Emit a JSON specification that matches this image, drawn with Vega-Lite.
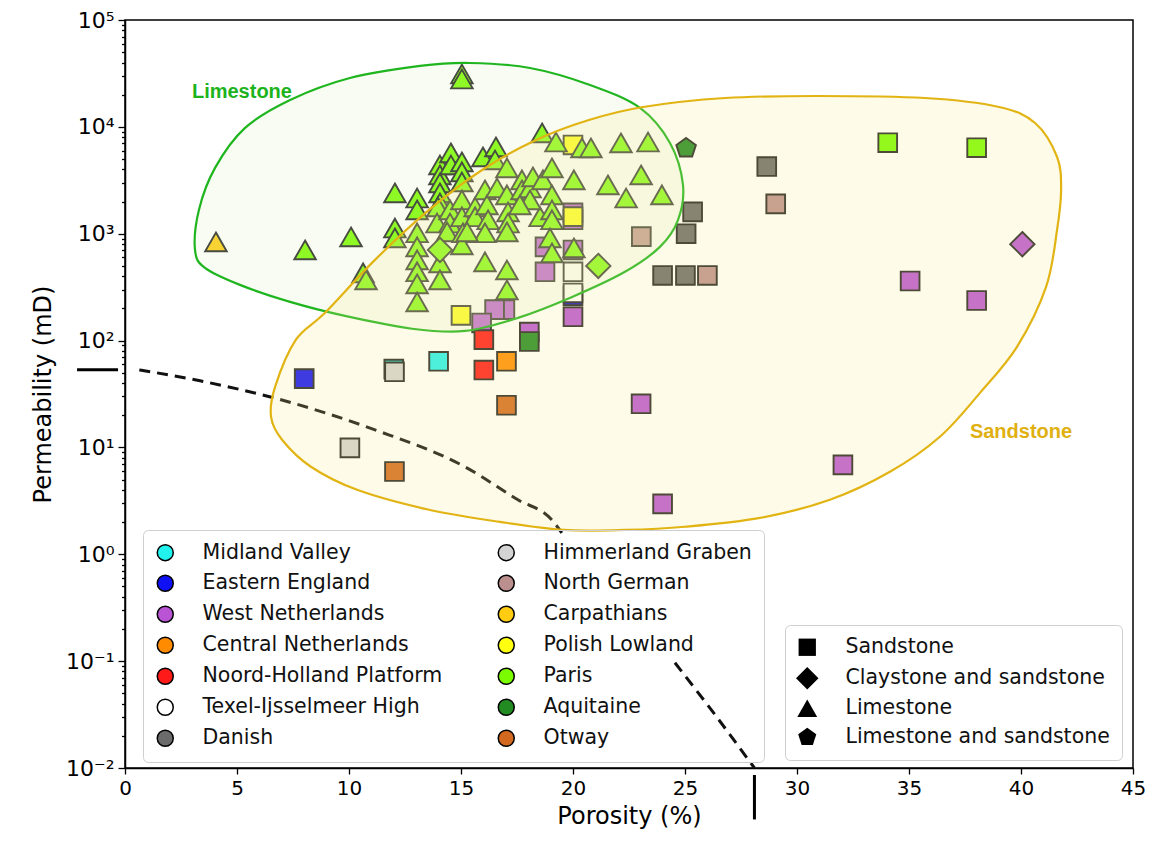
{
  "$schema": "https://vega.github.io/schema/vega-lite/v6.json",
  "width": 1008,
  "height": 748,
  "autosize": {"type": "none"},
  "padding": {"left": 125, "top": 20, "right": 21, "bottom": 82},
  "background": "white",
  "config": {
    "view": {"stroke": "black", "strokeWidth": 1.5},
    "axis": {"grid": false, "domainColor": "black", "domainWidth": 1.5, "tickColor": "black", "tickWidth": 1.3, "labelColor": "black", "titleColor": "black", "labelFont": "DejaVu Sans", "titleFont": "DejaVu Sans", "titleFontWeight": "normal"},
    "legend": {"labelFont": "DejaVu Sans"}
  },
  "datasets": {
    "pts": [
      {"basin":"Midland Valley","lith":"Sandstone","phi":12.0,"k":54},
      {"basin":"Midland Valley","lith":"Sandstone","phi":14.0,"k":64},
      {"basin":"Eastern England","lith":"Sandstone","phi":8.0,"k":44},
      {"basin":"Eastern England","lith":"Sandstone","phi":20.0,"k":262},
      {"basin":"West Netherlands","lith":"Sandstone","phi":20.0,"k":167},
      {"basin":"West Netherlands","lith":"Sandstone","phi":18.05,"k":120},
      {"basin":"West Netherlands","lith":"Sandstone","phi":23.04,"k":25.6},
      {"basin":"West Netherlands","lith":"Sandstone","phi":24.0,"k":2.96},
      {"basin":"West Netherlands","lith":"Sandstone","phi":32.05,"k":6.87},
      {"basin":"West Netherlands","lith":"Sandstone","phi":35.05,"k":361},
      {"basin":"West Netherlands","lith":"Sandstone","phi":38.02,"k":237},
      {"basin":"West Netherlands","lith":"Sandstone","phi":16.96,"k":195},
      {"basin":"West Netherlands","lith":"Sandstone","phi":16.5,"k":195},
      {"basin":"West Netherlands","lith":"Sandstone","phi":15.92,"k":146},
      {"basin":"West Netherlands","lith":"Sandstone","phi":18.75,"k":753},
      {"basin":"West Netherlands","lith":"Sandstone","phi":18.75,"k":440},
      {"basin":"West Netherlands","lith":"Sandstone","phi":20.0,"k":705},
      {"basin":"West Netherlands","lith":"Sandstone","phi":20.0,"k":1570},
      {"basin":"West Netherlands","lith":"Sandstone","phi":20.0,"k":1350},
      {"basin":"West Netherlands","lith":"Claystone and sandstone","phi":40.06,"k":798},
      {"basin":"Central Netherlands","lith":"Sandstone","phi":17.03,"k":64},
      {"basin":"Noord-Holland Platform","lith":"Sandstone","phi":16.02,"k":53},
      {"basin":"Noord-Holland Platform","lith":"Sandstone","phi":16.02,"k":102},
      {"basin":"Texel-Ijsselmeer High","lith":"Sandstone","phi":20.0,"k":440},
      {"basin":"Texel-Ijsselmeer High","lith":"Sandstone","phi":20.0,"k":279},
      {"basin":"Danish","lith":"Sandstone","phi":28.65,"k":4250},
      {"basin":"Danish","lith":"Sandstone","phi":25.34,"k":1600},
      {"basin":"Danish","lith":"Sandstone","phi":25.05,"k":1000},
      {"basin":"Danish","lith":"Sandstone","phi":24.0,"k":407},
      {"basin":"Danish","lith":"Sandstone","phi":25.02,"k":407},
      {"basin":"Himmerland Graben","lith":"Sandstone","phi":12.03,"k":51},
      {"basin":"Himmerland Graben","lith":"Sandstone","phi":10.04,"k":9.9},
      {"basin":"North German","lith":"Sandstone","phi":29.05,"k":1900},
      {"basin":"North German","lith":"Sandstone","phi":26.0,"k":407},
      {"basin":"North German","lith":"Sandstone","phi":23.05,"k":940},
      {"basin":"Carpathians","lith":"Limestone","phi":4.06,"k":838},
      {"basin":"Polish Lowland","lith":"Sandstone","phi":20.0,"k":6770},
      {"basin":"Polish Lowland","lith":"Sandstone","phi":20.0,"k":1445},
      {"basin":"Polish Lowland","lith":"Sandstone","phi":15.0,"k":172},
      {"basin":"Paris","lith":"Limestone","phi":8.04,"k":705},
      {"basin":"Paris","lith":"Limestone","phi":10.09,"k":933},
      {"basin":"Paris","lith":"Limestone","phi":10.63,"k":430},
      {"basin":"Paris","lith":"Limestone","phi":10.76,"k":370},
      {"basin":"Paris","lith":"Limestone","phi":12.05,"k":2410},
      {"basin":"Paris","lith":"Limestone","phi":12.05,"k":1130},
      {"basin":"Paris","lith":"Limestone","phi":12.05,"k":914},
      {"basin":"Paris","lith":"Limestone","phi":13.04,"k":2160},
      {"basin":"Paris","lith":"Limestone","phi":13.04,"k":1670},
      {"basin":"Paris","lith":"Limestone","phi":14.06,"k":4400},
      {"basin":"Paris","lith":"Limestone","phi":14.06,"k":3550},
      {"basin":"Paris","lith":"Limestone","phi":14.06,"k":2990},
      {"basin":"Paris","lith":"Limestone","phi":14.06,"k":2410},
      {"basin":"Paris","lith":"Limestone","phi":14.06,"k":1940},
      {"basin":"Paris","lith":"Limestone","phi":14.55,"k":5700},
      {"basin":"Paris","lith":"Limestone","phi":14.55,"k":4400},
      {"basin":"Paris","lith":"Limestone","phi":15.04,"k":4700},
      {"basin":"Paris","lith":"Limestone","phi":15.04,"k":3790},
      {"basin":"Paris","lith":"Limestone","phi":15.04,"k":3050},
      {"basin":"Paris","lith":"Limestone","phi":15.98,"k":5230},
      {"basin":"Paris","lith":"Limestone","phi":16.56,"k":6490},
      {"basin":"Paris","lith":"Limestone","phi":16.52,"k":4900},
      {"basin":"Paris","lith":"Limestone","phi":18.62,"k":8770},
      {"basin":"Paris","lith":"Limestone","phi":15.04,"k":31260},
      {"basin":"Paris","lith":"Limestone","phi":15.04,"k":28050},
      {"basin":"Paris","lith":"Limestone","phi":13.04,"k":1020},
      {"basin":"Paris","lith":"Limestone","phi":13.04,"k":753},
      {"basin":"Paris","lith":"Limestone","phi":13.04,"k":569},
      {"basin":"Paris","lith":"Limestone","phi":13.04,"k":440},
      {"basin":"Paris","lith":"Limestone","phi":13.04,"k":339},
      {"basin":"Paris","lith":"Limestone","phi":13.04,"k":230},
      {"basin":"Paris","lith":"Limestone","phi":14.06,"k":533},
      {"basin":"Paris","lith":"Limestone","phi":14.06,"k":370},
      {"basin":"Paris","lith":"Limestone","phi":13.97,"k":1780},
      {"basin":"Paris","lith":"Limestone","phi":13.93,"k":1260},
      {"basin":"Paris","lith":"Limestone","phi":14.51,"k":1670},
      {"basin":"Paris","lith":"Limestone","phi":14.51,"k":1260},
      {"basin":"Paris","lith":"Limestone","phi":14.38,"k":1040},
      {"basin":"Paris","lith":"Limestone","phi":15.04,"k":2070},
      {"basin":"Paris","lith":"Limestone","phi":15.04,"k":1440},
      {"basin":"Paris","lith":"Limestone","phi":15.09,"k":1020},
      {"basin":"Paris","lith":"Limestone","phi":15.04,"k":785},
      {"basin":"Paris","lith":"Limestone","phi":15.63,"k":1780},
      {"basin":"Paris","lith":"Limestone","phi":15.63,"k":1440},
      {"basin":"Paris","lith":"Limestone","phi":16.07,"k":2570},
      {"basin":"Paris","lith":"Limestone","phi":16.16,"k":1860},
      {"basin":"Paris","lith":"Limestone","phi":16.21,"k":1350},
      {"basin":"Paris","lith":"Limestone","phi":16.07,"k":1020},
      {"basin":"Paris","lith":"Limestone","phi":16.07,"k":545},
      {"basin":"Paris","lith":"Limestone","phi":16.61,"k":2680},
      {"basin":"Paris","lith":"Limestone","phi":17.05,"k":2310},
      {"basin":"Paris","lith":"Limestone","phi":17.1,"k":1600},
      {"basin":"Paris","lith":"Limestone","phi":17.1,"k":1260},
      {"basin":"Paris","lith":"Limestone","phi":17.05,"k":1040},
      {"basin":"Paris","lith":"Limestone","phi":17.05,"k":458},
      {"basin":"Paris","lith":"Limestone","phi":17.05,"k":298},
      {"basin":"Paris","lith":"Limestone","phi":17.05,"k":4130},
      {"basin":"Paris","lith":"Limestone","phi":17.72,"k":3190},
      {"basin":"Paris","lith":"Limestone","phi":17.72,"k":2570},
      {"basin":"Paris","lith":"Limestone","phi":18.08,"k":2680},
      {"basin":"Paris","lith":"Limestone","phi":18.21,"k":3400},
      {"basin":"Paris","lith":"Limestone","phi":18.53,"k":1440},
      {"basin":"Paris","lith":"Limestone","phi":18.66,"k":3190},
      {"basin":"Paris","lith":"Limestone","phi":19.06,"k":4130},
      {"basin":"Paris","lith":"Limestone","phi":19.06,"k":2310},
      {"basin":"Paris","lith":"Limestone","phi":19.06,"k":1670},
      {"basin":"Paris","lith":"Limestone","phi":19.06,"k":1350},
      {"basin":"Paris","lith":"Limestone","phi":18.97,"k":914},
      {"basin":"Paris","lith":"Limestone","phi":19.06,"k":661},
      {"basin":"Paris","lith":"Limestone","phi":19.24,"k":7220},
      {"basin":"Paris","lith":"Limestone","phi":20.04,"k":3190},
      {"basin":"Paris","lith":"Limestone","phi":20.04,"k":736},
      {"basin":"Paris","lith":"Limestone","phi":20.4,"k":6350},
      {"basin":"Paris","lith":"Limestone","phi":20.8,"k":6350},
      {"basin":"Paris","lith":"Limestone","phi":21.56,"k":2860},
      {"basin":"Paris","lith":"Limestone","phi":22.14,"k":7070},
      {"basin":"Paris","lith":"Limestone","phi":22.37,"k":2160},
      {"basin":"Paris","lith":"Limestone","phi":23.04,"k":3550},
      {"basin":"Paris","lith":"Limestone","phi":23.35,"k":7220},
      {"basin":"Paris","lith":"Limestone","phi":23.97,"k":2310},
      {"basin":"Paris","lith":"Limestone","phi":15.27,"k":1040},
      {"basin":"Paris","lith":"Limestone","phi":18.08,"k":2070},
      {"basin":"Paris","lith":"Limestone","phi":17.63,"k":1860},
      {"basin":"Paris","lith":"Claystone and sandstone","phi":14.06,"k":705},
      {"basin":"Paris","lith":"Claystone and sandstone","phi":21.13,"k":500},
      {"basin":"Paris","lith":"Sandstone","phi":34.05,"k":7110},
      {"basin":"Paris","lith":"Sandstone","phi":38.02,"k":6380},
      {"basin":"Aquitaine","lith":"Sandstone","phi":18.05,"k":98},
      {"basin":"Aquitaine","lith":"Limestone and sandstone","phi":25.05,"k":6310},
      {"basin":"Otway","lith":"Sandstone","phi":17.03,"k":24.8},
      {"basin":"Otway","lith":"Sandstone","phi":12.03,"k":5.95}
    ],
    "lime": [
      {"i":1,"phi":3.125,"k":705},{"i":2,"phi":3.3,"k":1670},{"i":3,"phi":4.02,"k":4130},{"i":4,"phi":5.36,"k":9770},
      {"i":5,"phi":7.37,"k":17860},{"i":6,"phi":10.04,"k":28660},{"i":7,"phi":13.17,"k":37150},{"i":8,"phi":15.4,"k":39600},
      {"i":9,"phi":18.08,"k":35560},{"i":10,"phi":20.76,"k":24660},{"i":11,"phi":22.99,"k":15030},{"i":12,"phi":24.33,"k":7070},
      {"i":13,"phi":24.91,"k":2860},{"i":14,"phi":24.69,"k":1350},{"i":15,"phi":23.88,"k":753},{"i":16,"phi":22.32,"k":440},
      {"i":17,"phi":19.96,"k":256},{"i":18,"phi":17.54,"k":163},{"i":19,"phi":15.18,"k":123},{"i":20,"phi":12.81,"k":129},
      {"i":21,"phi":9.82,"k":170},{"i":22,"phi":7.37,"k":230},{"i":23,"phi":5.13,"k":332},{"i":24,"phi":3.57,"k":479}
    ],
    "sand": [
      {"i":1,"phi":6.52,"k":19.3},{"i":2,"phi":6.7,"k":36.9},{"i":3,"phi":7.63,"k":102},{"i":4,"phi":8.93,"k":182},
      {"i":5,"phi":11.16,"k":569},{"i":6,"phi":13.57,"k":1670},{"i":7,"phi":15.94,"k":3950},{"i":8,"phi":18.35,"k":7540},
      {"i":9,"phi":20.71,"k":11600},{"i":10,"phi":23.13,"k":15350},{"i":11,"phi":26.79,"k":18620},{"i":12,"phi":30.85,"k":19450},
      {"i":13,"phi":35.71,"k":18620},{"i":14,"phi":39.02,"k":15350},{"i":15,"phi":40.63,"k":10870},{"i":16,"phi":41.61,"k":5230},
      {"i":17,"phi":41.79,"k":2570},{"i":18,"phi":41.61,"k":1086},{"i":19,"phi":41.12,"k":318},{"i":20,"phi":39.82,"k":87.3},
      {"i":21,"phi":38.17,"k":32.4},{"i":22,"phi":36.38,"k":12.6},{"i":23,"phi":34.15,"k":5.92},{"i":24,"phi":31.47,"k":3.24},
      {"i":25,"phi":28.35,"k":2.19},{"i":26,"phi":25.0,"k":1.81},{"i":27,"phi":22.32,"k":1.69},{"i":28,"phi":19.6,"k":1.69},
      {"i":29,"phi":16.74,"k":2.01},{"i":30,"phi":13.57,"k":2.61},{"i":31,"phi":10.36,"k":4.01},{"i":32,"phi":8.3,"k":6.59},
      {"i":33,"phi":7.01,"k":11.8}
    ],
    "dash": [
      {"seg":"A","i":1,"phi":0.64,"k":53.2},{"seg":"A","i":2,"phi":3.35,"k":42},{"seg":"A","i":3,"phi":6.7,"k":28.9},
      {"seg":"A","i":4,"phi":11.16,"k":14.6},{"seg":"A","i":5,"phi":15.15,"k":6.63},{"seg":"A","i":6,"phi":17.54,"k":3.24},
      {"seg":"A","i":7,"phi":19.05,"k":2.1},{"seg":"A","i":8,"phi":19.5,"k":1.59},
      {"seg":"B","i":1,"phi":24.55,"k":0.0966},{"seg":"B","i":2,"phi":26.34,"k":0.0315},{"seg":"B","i":3,"phi":28.1,"k":0.01}
    ],
    "marks": [
      {"phi":-2.14,"phi2":-0.31,"k":53.2,"k2":53.2},
      {"phi":28.1,"phi2":28.1,"k":0.0086,"k2":0.0033}
    ]
  },
  "encoding": {
    "x": {"field": "phi", "type": "quantitative", "title": "Porosity (%)",
      "scale": {"domain": [0, 45], "nice": false, "zero": false},
      "axis": {"values": [0,5,10,15,20,25,30,35,40,45], "tickSize": 6, "labelFontSize": 20, "labelPadding": 4, "titleFontSize": 24, "titlePadding": 6, "labelFlush": false}},
    "y": {"field": "k", "type": "quantitative", "title": "Permeability (mD)",
      "scale": {"type": "log", "domain": [0.01, 100000], "nice": false},
      "axis": {
        "values": [0.01,0.02,0.03,0.04,0.05,0.06,0.07,0.08,0.09,0.1,0.2,0.3,0.4,0.5,0.6,0.7,0.8,0.9,1,2,3,4,5,6,7,8,9,10,20,30,40,50,60,70,80,90,100,200,300,400,500,600,700,800,900,1000,2000,3000,4000,5000,6000,7000,8000,9000,10000,20000,30000,40000,50000,60000,70000,80000,90000,100000],
        "labelExpr": "abs(log(datum.value)/LN10 - round(log(datum.value)/LN10)) < 0.001 ? '10' + ['⁻²','⁻¹','⁰','¹','²','³','⁴','⁵'][round(log(datum.value)/LN10) + 2] : ''",
        "tickSize": {"condition": {"test": "abs(log(datum.value)/LN10 - round(log(datum.value)/LN10)) < 0.001", "value": 7}, "value": 3.5},
        "labelFontSize": 22, "labelPadding": 4, "labelOverlap": false, "labelFlush": false,
        "titleFontSize": 24, "titlePadding": 10}}
  },
  "layer": [
    {
      "data": {"name": "pts"},
      "mark": {"type": "point", "filled": true, "stroke": "#222222", "strokeWidth": 1.9, "opacity": 1, "size": 350},
      "encoding": {
        "color": {"field": "basin", "type": "nominal",
          "scale": {"domain": ["Midland Valley","Eastern England","West Netherlands","Central Netherlands","Noord-Holland Platform","Texel-Ijsselmeer High","Danish","Himmerland Graben","North German","Carpathians","Polish Lowland","Paris","Aquitaine","Otway"],
                    "range": ["#22f2ee","#1010f5","#b955d5","#ff8c00","#ff1a1a","#ffffff","#6b6b6b","#d3d3d3","#bc8f8f","#ffcc11","#ffff10","#7cfc00","#228b22","#d2691e"]},
          "legend": {"title": null, "orient": "none", "legendX": 18, "legendY": 510, "columns": 2, "columnPadding": 52, "rowPadding": 8, "padding": 12,
                     "symbolType": "circle", "symbolSize": 256, "symbolStrokeColor": "black", "symbolStrokeWidth": 1.5, "symbolOpacity": 1,
                     "labelFontSize": 20.5, "labelColor": "#111111", "labelOffset": 27, "labelLimit": 400,
                     "strokeColor": "#cfcfcf", "cornerRadius": 5}},
        "shape": {"field": "lith", "type": "nominal",
          "scale": {"domain": ["Sandstone","Claystone and sandstone","Limestone","Limestone and sandstone"],
                    "range": ["M-1,-1H1V1H-1Z","M0,-1.3L1.3,0L0,1.3L-1.3,0Z","M0,-1L1.15,1L-1.15,1Z","M0,-1.1L1.046,-0.34L0.647,0.89L-0.647,0.89L-1.046,-0.34Z"]},
          "legend": {"title": null, "orient": "none", "legendX": 660, "legendY": 605, "rowPadding": 8, "padding": 12,
                     "symbolSize": 300, "symbolFillColor": "black", "symbolStrokeColor": "black", "symbolStrokeWidth": 0, "symbolOpacity": 1,
                     "labelFontSize": 20.5, "labelColor": "#111111", "labelOffset": 28, "labelLimit": 400,
                     "strokeColor": "#cfcfcf", "cornerRadius": 5}}
      }
    },
    {
      "data": {"name": "dash"},
      "mark": {"type": "line", "stroke": "#111111", "strokeWidth": 3, "strokeDash": [11, 7], "interpolate": "monotone"},
      "encoding": {"detail": {"field": "seg"}, "order": {"field": "i"}}
    },
    {
      "data": {"name": "lime"},
      "mark": {"type": "line", "interpolate": "cardinal-closed", "fill": "#dcf0be", "fillOpacity": 0.2, "stroke": "#1fb51f", "strokeWidth": 2.2},
      "encoding": {"order": {"field": "i"}}
    },
    {
      "data": {"name": "sand"},
      "mark": {"type": "line", "interpolate": "cardinal-closed", "fill": "#faeb91", "fillOpacity": 0.2, "stroke": "#e2b413", "strokeWidth": 2.2},
      "encoding": {"order": {"field": "i"}}
    },
    {
      "data": {"values": [{"phi": 5.22, "k": 21190, "label": "Limestone"}]},
      "mark": {"type": "text", "font": "Liberation Sans", "fontWeight": "bold", "fontSize": 20, "color": "#1db31d", "align": "center", "baseline": "middle"},
      "encoding": {"text": {"field": "label"}}
    },
    {
      "data": {"values": [{"phi": 40.0, "k": 14.0, "label": "Sandstone"}]},
      "mark": {"type": "text", "font": "Liberation Sans", "fontWeight": "bold", "fontSize": 20, "color": "#e0b010", "align": "center", "baseline": "middle"},
      "encoding": {"text": {"field": "label"}}
    },
    {
      "data": {"name": "marks"},
      "mark": {"type": "rule", "color": "black", "strokeWidth": 3},
      "encoding": {"x2": {"field": "phi2"}, "y2": {"field": "k2"}}
    }
  ]
}
